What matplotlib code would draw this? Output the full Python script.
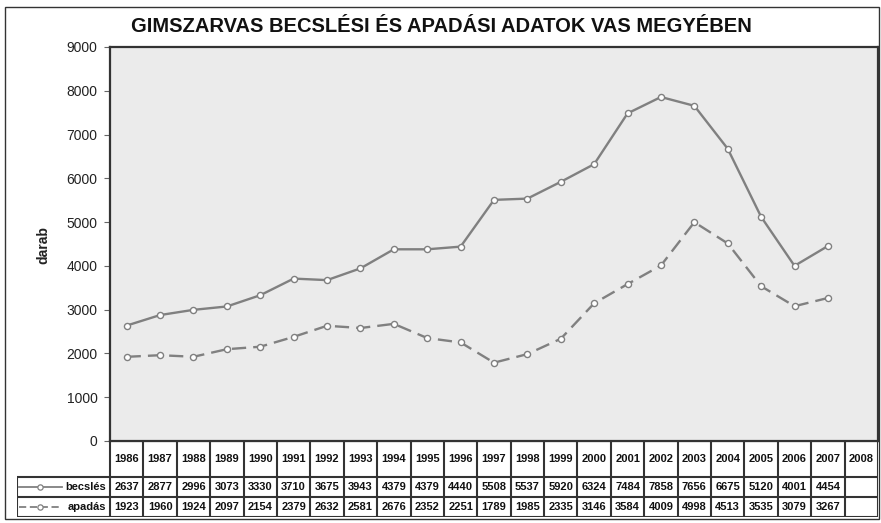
import matplotlib
matplotlib.use("Agg")
import matplotlib.pyplot as plt
from matplotlib.patches import Rectangle

plt.rcParams['font.family'] = ['Liberation Sans', 'DejaVu Sans']

years = [str(y) for y in range(1986, 2009)]
becsles = [2637, 2877, 2996, 3073, 3330, 3710, 3675, 3943, 4379, 4379, 4440,
           5508, 5537, 5920, 6324, 7484, 7858, 7656, 6675, 5120, 4001, 4454]
apadas = [1923, 1960, 1924, 2097, 2154, 2379, 2632, 2581, 2676, 2352, 2251,
          1789, 1985, 2335, 3146, 3584, 4009, 4998, 4513, 3535, 3079, 3267]
series_names = ['becslés', 'apadás']
title = 'GIMSZARVAS BECSLÉSI ÉS APADÁSI ADATOK VAS MEGYÉBEN'
ylabel = 'darab'
yticks = list(range(0, 9001, 1000))

W, H = 881, 523
fig = plt.figure(figsize=(W / 100, H / 100), dpi=100)
fig.patch.set_facecolor('white')

def fx(px):
    return px / W

def fy(py):
    return 1 - py / H

# plot area pixels
L, R, T, B = 110, 878, 47, 441
ax = fig.add_axes([fx(L), fy(B), fx(R - L), (B - T) / H])
ax.set_facecolor('#ebebeb')
n = len(years)
ax.set_xlim(-0.5, n - 0.5)
ax.set_ylim(0, 9000)
ax.set_xticks([])
ax.set_yticks(yticks)
ax.set_yticklabels([str(v) for v in yticks], fontsize=10, color='#222222')
ax.tick_params(axis='y', length=4, width=0.8, color='#666666', pad=5)
for s in ax.spines.values():
    s.set_color('#333333')
    s.set_linewidth(1.6)

line_color = '#808080'
xs = list(range(len(becsles)))
ax.plot(xs, becsles, color=line_color, lw=1.7, marker='o', ms=4.4,
        mfc='white', mec=line_color, mew=1.0)
ax.plot(xs, apadas, color=line_color, lw=1.7, marker='o', ms=4.4,
        mfc='white', mec=line_color, mew=1.0, dashes=(6, 3))

fig.text(fx(43), fy(245), ylabel, rotation=90, ha='center', va='center',
         fontsize=10, fontweight='bold', color='#222222')
fig.text(fx(441), fy(27), title, ha='center', va='center',
         fontsize=14.5, fontweight='bold', color='#111111')

# table axes
TL, TT, TB = 17, 441, 517
colw = (R - L) / n
label_cols = (L - TL) / colw
tax = fig.add_axes([fx(TL), fy(TB), fx(R - TL), (TB - TT) / H])
tax.set_xlim(-0.5 - label_cols, n - 0.5)
tax.set_ylim(TB - TT, 0)
tax.axis('off')
row_y = [0, 36, 56, 76]
gc = '#333333'
glw = 1.5
tax.hlines([row_y[0], row_y[1]], -0.5, n - 0.5, color=gc, lw=glw)
tax.hlines([row_y[2], row_y[3]], -0.5 - label_cols, n - 0.5, color=gc, lw=glw)
tax.hlines([row_y[1]], -0.5 - label_cols, -0.5, color=gc, lw=glw)
for i in range(n + 1):
    tax.vlines(i - 0.5, row_y[0], row_y[3], color=gc, lw=glw)
tax.vlines(-0.5 - label_cols, row_y[1], row_y[3], color=gc, lw=glw)

for i, yr in enumerate(years):
    tax.text(i, (row_y[0] + row_y[1]) / 2, yr, ha='center', va='center',
             fontsize=8, fontweight='bold', color='#111111')
for r, vals in enumerate([becsles, apadas]):
    yc = (row_y[1 + r] + row_y[2 + r]) / 2
    for i, v in enumerate(vals):
        tax.text(i, yc, str(v), ha='center', va='center',
                 fontsize=8, fontweight='bold', color='#111111')
    x0 = -0.5 - label_cols + 0.05
    x1 = x0 + 1.3
    kw = dict(color=line_color, lw=1.3)
    if r == 1:
        kw['dashes'] = (4, 2)
    tax.plot([x0, x1], [yc, yc], **kw)
    tax.plot([(x0 + x1) / 2], [yc], marker='o', ms=3.8, mfc='white',
             mec=line_color, mew=0.9, ls='none')
    tax.text(-0.62, yc, series_names[r], ha='right', va='center',
             fontsize=8, fontweight='bold', color='#111111')

# outer frame
fig.patches.append(Rectangle((fx(5), fy(519)), fx(874), (519 - 7) / H,
                             transform=fig.transFigure, fill=False,
                             edgecolor='#333333', lw=1.0))

fig.savefig('out.png', dpi=100)
